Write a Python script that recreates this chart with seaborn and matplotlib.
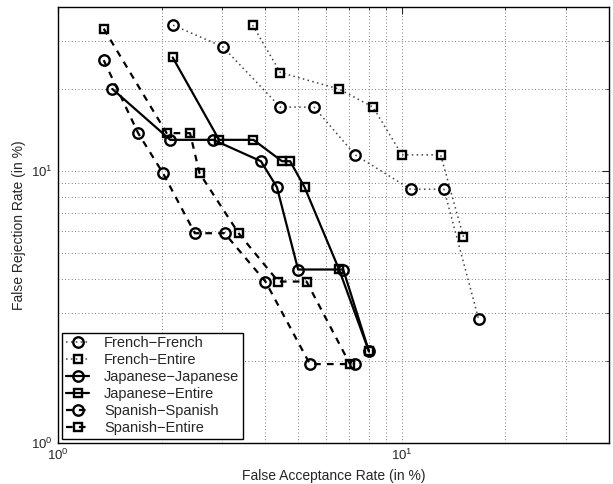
import numpy as np
import pandas as pd
import matplotlib
matplotlib.use("Agg")
import matplotlib.pyplot as plt
import matplotlib.ticker as mticker
import seaborn as sns

# ---- data ----
ff_x = [2.16, 3.01, 4.43, 5.55, 7.31, 10.6, 13.25, 16.7]
ff_y = [34.3, 28.6, 17.15, 17.15, 11.45, 8.56, 8.56, 2.86]

fe_x = [3.68, 4.43, 6.55, 8.24, 10.0, 12.96, 15.1]
fe_y = [34.3, 22.98, 20.0, 17.15, 11.45, 11.45, 5.72]

jj_x = [1.438, 2.12, 2.83, 3.89, 4.33, 4.99, 6.75, 8.02]
jj_y = [20.0, 13.0, 13.0, 10.85, 8.71, 4.34, 4.34, 2.17]

je_x = [2.155, 2.94, 3.70, 4.48, 4.73, 5.21, 6.56, 8.02]
je_y = [26.1, 13.0, 13.0, 10.85, 10.85, 8.71, 4.35, 2.17]

ss_x = [1.358, 1.71, 2.02, 2.50, 3.05, 4.01, 5.40, 7.30]
ss_y = [25.5, 13.76, 9.8, 5.90, 5.90, 3.92, 1.95, 1.95]

se_x = [1.358, 2.07, 2.42, 2.58, 3.35, 4.37, 5.28, 7.06]
se_y = [33.3, 13.76, 13.76, 9.8, 5.90, 3.92, 3.92, 1.95]

labels = ["French\u2212French", "French\u2212Entire",
          "Japanese\u2212Japanese", "Japanese\u2212Entire",
          "Spanish\u2212Spanish", "Spanish\u2212Entire"]

sns.set_style("white")
plt.rcParams["font.family"] = ["Liberation Sans", "DejaVu Sans"]
plt.rcParams["mathtext.fontset"] = "custom"
plt.rcParams["mathtext.rm"] = "Liberation Sans"
plt.rcParams["mathtext.it"] = "Liberation Sans:italic"

fig = plt.figure(figsize=(6.13, 4.84), dpi=100)
ax = fig.add_axes([58 / 613, 1 - 443 / 484, (609 - 58) / 613, (443 - 7) / 484])

series = [
    (ff_x, ff_y, "o", (0, (1, 2.2)), 1.1, "#444444"),
    (fe_x, fe_y, "s", (0, (1, 2.2)), 1.1, "#444444"),
    (jj_x, jj_y, "o", "-", 1.6, "black"),
    (je_x, je_y, "s", "-", 1.6, "black"),
    (ss_x, ss_y, "o", (0, (3, 2.8)), 1.6, "black"),
    (se_x, se_y, "s", (0, (3, 2.8)), 1.6, "black"),
]

for (xs, ys, mk, ls, lw, col), lab in zip(series, labels):
    df = pd.DataFrame({"x": xs, "y": ys})
    ms = 7.5 if mk == "o" else 6.0
    sns.lineplot(data=df, x="x", y="y", ax=ax, sort=False, estimator=None,
                 color=col, linestyle=ls, linewidth=lw, marker=mk,
                 markersize=ms, markerfacecolor="none",
                 markeredgecolor="black", markeredgewidth=1.7, label=lab)

ax.set_xscale("log")
ax.set_yscale("log")
ax.set_xlim(1, 40)
ax.set_ylim(1, 40)

ax.xaxis.set_major_locator(mticker.LogLocator(base=10))
ax.yaxis.set_major_locator(mticker.LogLocator(base=10))
ax.xaxis.set_minor_locator(mticker.LogLocator(base=10, subs=np.arange(2, 10)))
ax.yaxis.set_minor_locator(mticker.LogLocator(base=10, subs=np.arange(2, 10)))
ax.xaxis.set_minor_formatter(mticker.NullFormatter())
ax.yaxis.set_minor_formatter(mticker.NullFormatter())

ax.grid(True, which="both", color="#555555", linestyle=(0, (1, 3)), linewidth=0.6)
ax.tick_params(which="both", direction="in", top=True, right=True, labelsize=9.5)
ax.tick_params(which="major", length=5)
ax.tick_params(which="minor", length=2.5)
for s in ax.spines.values():
    s.set_color("black")
    s.set_linewidth(1.0)

ax.set_xlabel("False Acceptance Rate (in %)", fontsize=10)
ax.set_ylabel("False Rejection Rate (in %)", fontsize=10)

leg = ax.legend(loc="lower left", fontsize=10.5, handlelength=1.6,
                labelspacing=0.2, borderpad=0.25, handletextpad=1.0,
                fancybox=False, framealpha=1, edgecolor="black",
                borderaxespad=0.3)
leg.get_frame().set_linewidth(1.0)

fig.savefig("out.png", dpi=100)
